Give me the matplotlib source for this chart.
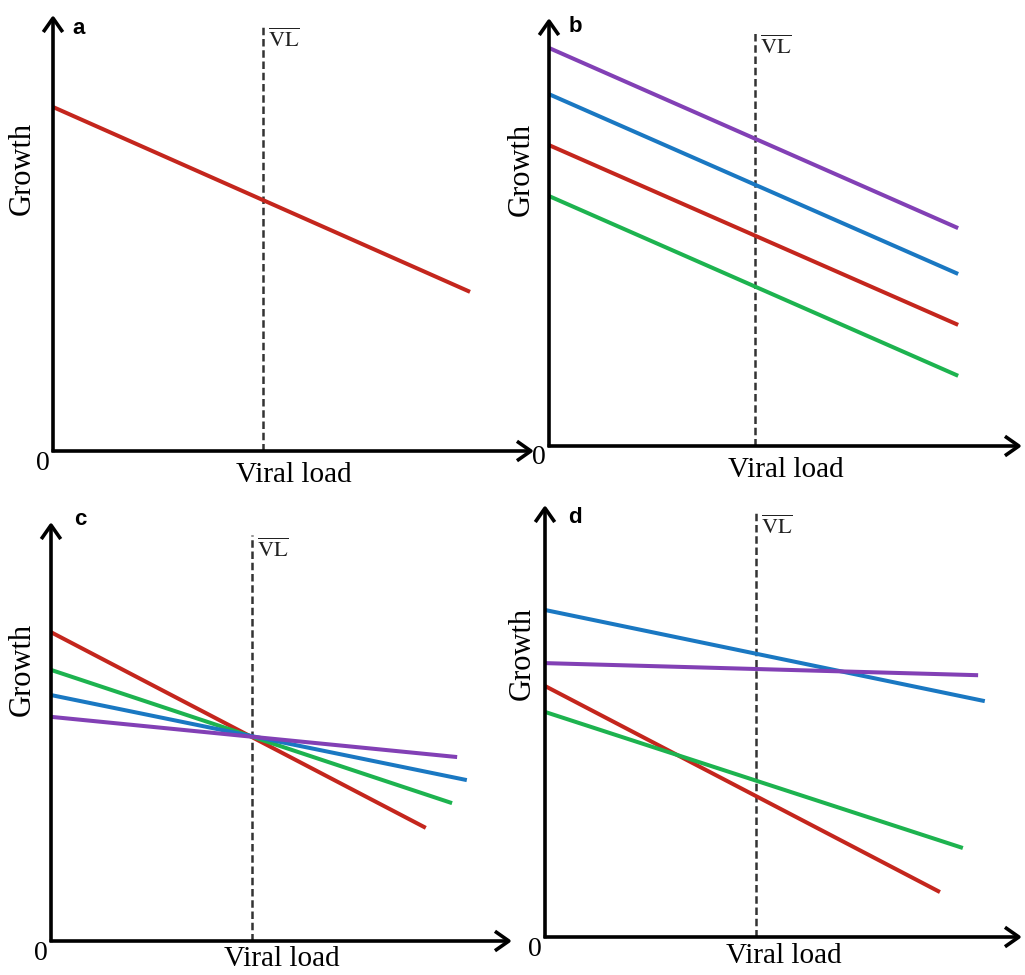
import matplotlib
matplotlib.use("Agg")
import matplotlib.pyplot as plt

# values, in percent of each axis length
panel_letters = ["a", "b", "c", "d"]
vl_x = [43.7, 43.6, 43.6, 44.2]
vl_top = [97.7, 96.7, 96.9, 98.4]

colors = {
    "red": "#c4261d",
    "blue": "#1a78c2",
    "green": "#1db34f",
    "purple": "#8240b5",
}

# each line: (colour, x start, y start, x end, y end)
lines_a = [("red", 0, 78.9, 86.7, 36.5)]
lines_b = [
    ("purple", 0, 93.0, 86.5, 50.9),
    ("blue", 0, 82.2, 86.5, 40.2),
    ("red", 0, 70.3, 86.5, 28.3),
    ("green", 0, 58.4, 86.5, 16.4),
]
lines_c = [
    ("red", 0, 73.7, 81.3, 27.0),
    ("green", 0, 64.7, 87.0, 32.9),
    ("blue", 0, 58.7, 90.2, 38.4),
    ("purple", 0, 53.5, 88.1, 43.9),
]
lines_d = [
    ("blue", 0, 75.7, 92.2, 54.6),
    ("purple", 0, 63.4, 90.8, 60.6),
    ("red", 0, 58.1, 82.8, 10.4),
    ("green", 0, 52.1, 87.6, 20.6),
]
all_lines = [lines_a, lines_b, lines_c, lines_d]

# layout: origin pixel, axis lengths in pixels (figure is 1025 x 975)
FW, FH = 1025, 975
layout = [
    (53, 451, 481, 436),
    (549, 446, 473, 428),
    (51, 941, 461, 419),
    (545, 937, 477, 432),
]
letter_pos = [(0.054, 0.970), (0.055, 0.979), (0.063, 1.007), (0.063, 0.972)]
growth_pos = [(-0.064, 0.649), (-0.059, 0.647), (-0.063, 0.647), (-0.048, 0.657)]
xlabel_gap = [-11, -11, -5, -6]

plt.rcParams["mathtext.fontset"] = "stix"
serif = "Liberation Serif"

fig = plt.figure(figsize=(FW / 100, FH / 100), dpi=100)

for i in range(4):
    x0, y0, w, h = layout[i]
    ax = fig.add_axes([x0 / FW, (FH - y0) / FH, w / FW, h / FH])
    ax.set_xlim(0, 100)
    ax.set_ylim(0, 100)
    ax.axis("off")

    # axes with open arrow heads
    arrow = dict(arrowstyle="->,head_length=0.5,head_width=0.35",
                 lw=2.6, color="black", mutation_scale=20,
                 shrinkA=0, shrinkB=0, capstyle="butt")
    ax.annotate("", xy=(100, 0), xytext=(-0.3, 0), arrowprops=arrow,
                annotation_clip=False, zorder=5)
    ax.annotate("", xy=(0, 100), xytext=(0, -0.3), arrowprops=arrow,
                annotation_clip=False, zorder=5)

    # mean viral load
    ax.plot([vl_x[i], vl_x[i]], [0, vl_top[i]], color="#333333", lw=1.8,
            dashes=(3, 1.5), zorder=1, clip_on=False)
    ax.annotate(r"$\overline{\mathrm{VL}}$", xy=(vl_x[i], vl_top[i]),
                xytext=(5, -3), textcoords="offset pixels", ha="left", va="top",
                fontsize=16, color="#222222")

    for c, xs, ys, xe, ye in all_lines[i]:
        ax.plot([xs, xe], [ys, ye], color=colors[c], lw=2.9,
                solid_capstyle="butt", zorder=2, clip_on=False)

    ax.text(letter_pos[i][0], letter_pos[i][1], panel_letters[i],
            transform=ax.transAxes, ha="center", va="center",
            fontsize=16, fontweight="bold", family="Liberation Sans")
    ax.text(growth_pos[i][0], growth_pos[i][1], "Growth", transform=ax.transAxes,
            rotation=90, ha="center", va="center", fontsize=22, family=serif)
    ax.annotate("Viral load", xy=(0.5, 0), xycoords="axes fraction",
                xytext=(0, xlabel_gap[i]), textcoords="offset pixels",
                ha="center", va="top", fontsize=21, family=serif)
    ax.annotate("0", xy=(0, 0), xycoords="axes fraction",
                xytext=(-10, -12), textcoords="offset pixels", ha="center",
                va="center", fontsize=20, family=serif)

fig.savefig("out.png", dpi=100)
